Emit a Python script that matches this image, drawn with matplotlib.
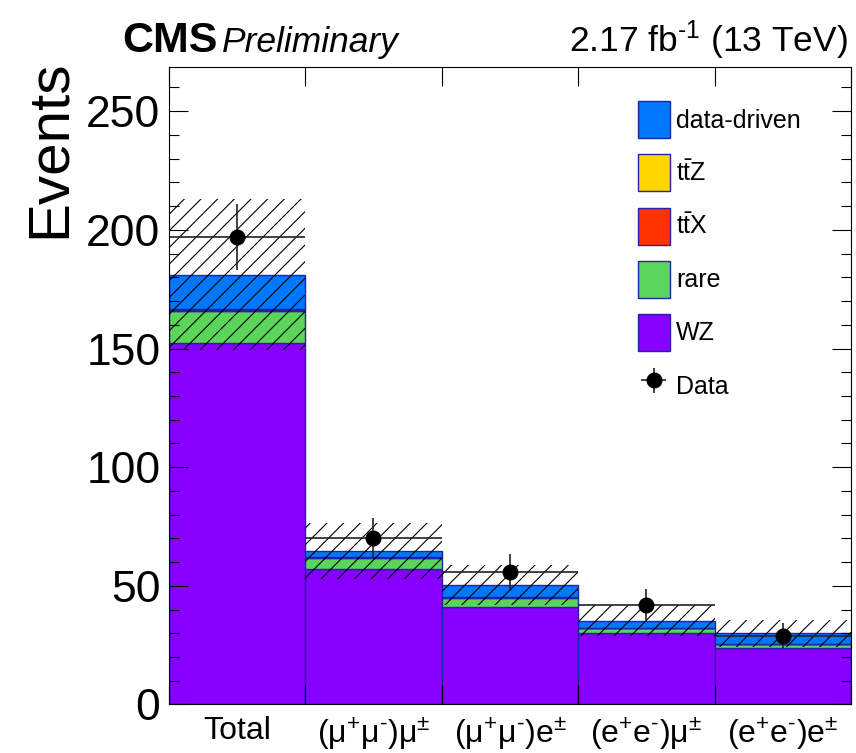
import numpy as np
import matplotlib
matplotlib.use("Agg")
import matplotlib.pyplot as plt
from matplotlib.patches import Patch

plt.rcParams['font.family'] = ['Liberation Sans', 'DejaVu Sans']
plt.rcParams['mathtext.fontset'] = 'custom'
plt.rcParams['mathtext.rm'] = 'Liberation Sans'
plt.rcParams['mathtext.it'] = 'Liberation Sans:italic'
plt.rcParams['mathtext.bf'] = 'Liberation Sans:bold'
plt.rcParams['hatch.linewidth'] = 0.8

# --- data ---
categories = ['Total',
              '$\\mathrm{(\\mu^{+}\\mu^{\u2010})\\mu^{\\pm}}$',
              '$\\mathrm{(\\mu^{+}\\mu^{\u2010})e^{\\pm}}$',
              '$\\mathrm{(e^{+}e^{\u2010})\\mu^{\\pm}}$',
              '$\\mathrm{(e^{+}e^{\u2010})e^{\\pm}}$']
wz = [152.5, 57.1, 41.2, 30.2, 23.7]
rare = [13.3, 4.7, 3.8, 1.9, 1.6]
ttx = [0.6, 0.15, 0.15, 0.15, 0.15]
ttz = [0.2, 0.05, 0.05, 0.05, 0.05]
data_driven = [14.4, 2.8, 5.0, 3.0, 4.5]
syst_unc = [31.8, 11.8, 8.4, 6.6, 5.6]
data = [197, 70, 56, 42, 29]
data_err = [14.0, 8.4, 7.5, 6.5, 5.4]

samples = [('WZ', wz, '#8800ff'),
           ('rare', rare, '#5ad55a'),
           (r'$\mathrm{t\bar{t}X}$', ttx, '#ff3300'),
           (r'$\mathrm{t\bar{t}Z}$', ttz, '#ffd700'),
           ('data-driven', data_driven, '#0077ff')]
edge = '#2222aa'

fig = plt.figure(figsize=(8.56, 7.53), dpi=100)
ax = fig.add_axes([0.1971, 0.0645, 0.7971, 0.8461])

x = np.arange(len(categories)) + 0.5
bottom = np.zeros(len(categories))
for name, vals, col in samples:
    ax.bar(x, vals, width=1.0, bottom=bottom, color=col, edgecolor=edge, linewidth=1.0)
    bottom = bottom + np.array(vals)

# systematic uncertainty band
unc = np.array(syst_unc)
ax.bar(x, 2 * unc, width=1.0, bottom=bottom - unc, fill=False,
       hatch='//', edgecolor='black', linewidth=0)

eb = ax.errorbar(x, data, yerr=data_err, xerr=0.5, fmt='o', color='black',
                 ecolor='#222222', elinewidth=1.2, markersize=10.5, capsize=0)

ax.set_xlim(0, 5)
ax.set_ylim(0, 268.5)

ax.set_xticks(x)
ax.set_xticklabels(categories, fontsize=23)
ax.set_xticks(np.arange(len(categories) + 1), minor=True)
ax.tick_params(axis='x', which='major', length=0, pad=8)
ax.tick_params(axis='x', which='minor', length=14, direction='in', top=True, width=0.8)

ax.set_yticks(np.arange(0, 251, 50))
ax.set_yticks(np.arange(0, 268, 10), minor=True)
ax.tick_params(axis='y', which='major', length=14, direction='in', right=True,
               labelsize=32, pad=6, width=0.8)
ax.tick_params(axis='y', which='minor', length=7, direction='in', right=True, width=0.8)
for s in ax.spines.values():
    s.set_linewidth(0.8)

fig.text(0.058, 1 - 60 / 753, 'Events', rotation=90, ha='center', va='top', fontsize=42)

fig.text(122 / 856, 1 - 52 / 753, 'CMS', fontsize=31, fontweight='bold', ha='left', va='baseline')
fig.text(222 / 856, 1 - 52 / 753, 'Preliminary', fontsize=25.5, style='italic', ha='left', va='baseline')
fig.text(848 / 856, 1 - 52 / 753, '2.17 fb$^{\\mathrm{\u2010}1}$ (13 TeV)', fontsize=25.5,
         ha='right', va='baseline')

handles = [Patch(facecolor=col, edgecolor=edge, linewidth=1.0) for _, _, col in samples[::-1]]
labels = [name for name, _, _ in samples[::-1]]
handles.append(eb)
labels.append('Data')
ax.legend(handles, labels, loc='upper left', bbox_to_anchor=(638 / 856, 1 - 101 / 753),
          bbox_transform=fig.transFigure, frameon=False, fontsize=18,
          handlelength=1.27, handleheight=1.9, labelspacing=0.65,
          handletextpad=0.25, borderpad=0, borderaxespad=0)

fig.savefig('out.png', dpi=100)
